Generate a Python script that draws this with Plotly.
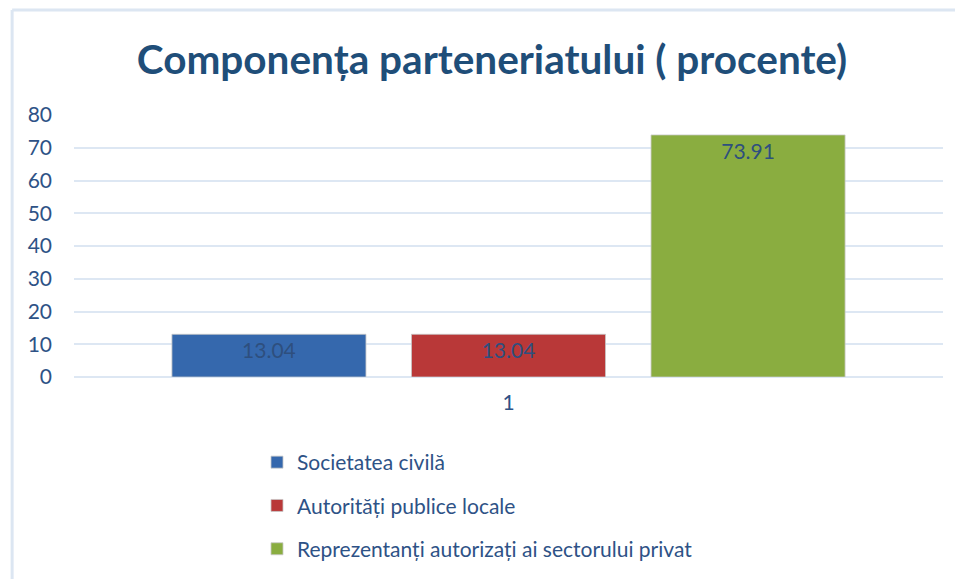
import plotly.graph_objects as go

categories = ["1"]
series_names = ["Societatea civilă", "Autorități publice locale", "Reprezentanți autorizați ai sectorului privat"]
series_values = [[13.04], [13.04], [73.91]]
series_colors = ["#3568ad", "#b93838", "#8aad40"]
y_ticks = [0, 10, 20, 30, 40, 50, 60, 70, 80]

FONT = "Lato"
TXT = "#2e5286"

fig = go.Figure()
for i, (name, vals, col) in enumerate(zip(series_names, series_values, series_colors)):
    fig.add_trace(go.Bar(
        x=categories, y=vals, name=name, legendgroup=f"g{i}",
        marker=dict(color=col, line=dict(color="rgba(200,200,200,0.8)", width=1)),
        text=[f"{v:.2f}" for v in vals],
        textposition="inside", insidetextanchor="end",
        textfont=dict(family=FONT, size=21, color="#2e4f7e"),
        textangle=0,
    ))

fig.update_layout(
    width=955, height=579,
    paper_bgcolor="white", plot_bgcolor="white",
    margin=dict(l=74, r=12, t=115, b=202, autoexpand=False),
    barmode="group", bargap=0.173, bargroupgap=0.19,
    title=dict(text="<b>Componența parteneriatului ( procente)</b>",
               x=492 / 955, xanchor="center", xref="container",
               y=1 - 60 / 579, yanchor="middle", yref="container",
               font=dict(family=FONT, size=40.5, color="#1f4e79")),
    xaxis=dict(type="category", showgrid=False, showline=False, ticks="",
               ticklabelstandoff=11,
               tickfont=dict(family=FONT, size=21, color=TXT)),
    yaxis=dict(range=[0, 80], tickvals=y_ticks, showgrid=True, gridcolor="#dde7f3",
               gridwidth=1.5, zeroline=True, zerolinecolor="#dde7f3", zerolinewidth=1.5,
               showline=False, ticks="", ticklabelstandoff=21,
               tickfont=dict(family=FONT, size=21, color=TXT)),
    legend=dict(orientation="v", xref="container", yref="container",
                x=257 / 955, xanchor="left", y=1 - 442 / 579, yanchor="top",
                font=dict(family=FONT, size=21, color=TXT), tracegroupgap=13,
                itemwidth=30, traceorder="grouped"),
    showlegend=True,
    shapes=[
        dict(type="line", xref="paper", yref="paper", x0=-0.0712, x1=1.1,
             y0=1.4008, y1=1.4008, line=dict(color="#dce6f2", width=3), layer="below"),
        dict(type="line", xref="paper", yref="paper", x0=-0.0712, x1=-0.0712,
             y0=-1.0, y1=1.4008, line=dict(color="#dce6f2", width=3), layer="below"),
    ],
)

fig.write_html("out.html", config={"displayModeBar": False},
               post_script="document.body.style.margin='0';document.body.style.overflow='hidden';")
